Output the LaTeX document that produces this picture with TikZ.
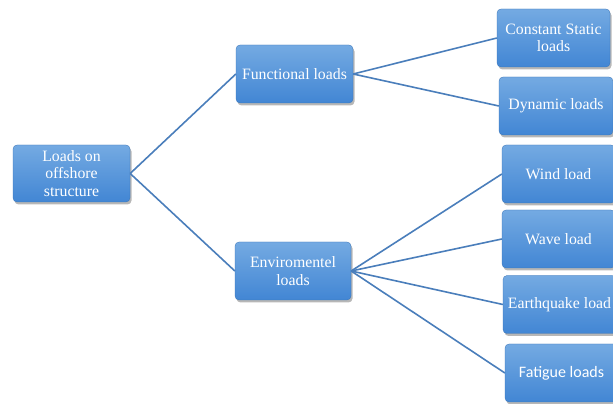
\documentclass[tikz,border=0pt]{standalone}
\usepackage{fontspec}
\setmainfont{Liberation Serif}
\newfontfamily\calib{Carlito}
\usetikzlibrary{shadows}
\definecolor{boxtop}{RGB}{116,170,226}
\definecolor{boxbot}{RGB}{66,134,212}
\definecolor{linkc}{RGB}{74,126,187}
\begin{document}
\begin{tikzpicture}[x=1pt,y=1pt,
 lbox/.style={rectangle, rounded corners=4pt, top color=boxtop, bottom color=boxbot,
   draw=boxbot!85!black, line width=0.3pt, text=white, align=center,
   font=\fontsize{15.8}{17.5}\selectfont, inner sep=0pt,
   drop shadow={opacity=0.4, shadow xshift=1.5pt, shadow yshift=-2.5pt, fill=black!70}},
 link/.style={draw=linkc, line width=1.6pt}]
\useasboundingbox (0,0) rectangle (613,404);
\node[lbox, minimum width=117, minimum height=57] (root) at (71.5,230.5) {Loads on\\offshore\\structure};
\node[lbox, minimum width=117, minimum height=58] (func) at (294.5,330) {Functional loads};
\node[lbox, minimum width=116, minimum height=58] (env) at (293,133) {Enviromentel\\loads};
\node[lbox, minimum width=113, minimum height=58] (cs) at (553.5,366) {Constant Static\\loads};
\node[lbox, minimum width=114, minimum height=58] (dyn) at (556,298) {Dynamic loads};
\node[lbox, minimum width=113, minimum height=58] (wind) at (558.5,230) {Wind load};
\node[lbox, minimum width=113, minimum height=58] (wave) at (558.5,165) {Wave load};
\node[lbox, minimum width=113, minimum height=58] (earth) at (559.5,99.5) {Earthquake load};
\node[lbox, minimum width=113, minimum height=58, font=\calib\fontsize{16}{18}\selectfont] (fat) at (561.5,31) {Fatigue loads};
\draw[link] (root.east) -- (func.west);
\draw[link] (root.east) -- (env.west);
\draw[link] (func.east) -- (cs.west);
\draw[link] (func.east) -- (dyn.west);
\draw[link] (env.east) -- (wind.west);
\draw[link] (env.east) -- (wave.west);
\draw[link] (env.east) -- (earth.west);
\draw[link] (env.east) -- (fat.west);
\end{tikzpicture}
\end{document}
